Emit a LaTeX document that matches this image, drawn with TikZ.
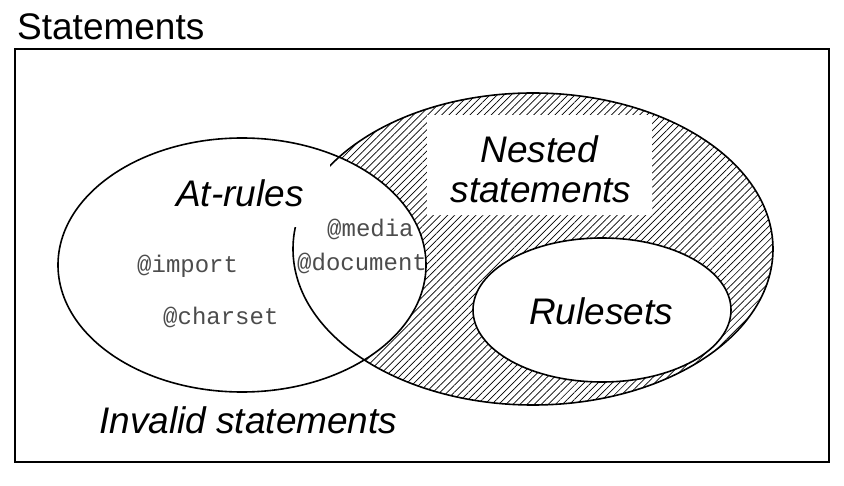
\documentclass[tikz,border=0pt]{standalone}
\usepackage{fontspec}
\setmainfont{Liberation Sans}
\setmonofont{Liberation Mono}
\usetikzlibrary{patterns.meta}
\tikzset{
  outline/.style={line width=1.6pt},
  bigtxt/.style={font=\fontsize{37}{41}\selectfont\itshape, inner sep=0pt},
  codetxt/.style={font=\fontsize{24}{28}\ttfamily, text=black!70, inner sep=0pt, anchor=base west},
  hatch/.style={pattern={Lines[angle=45,distance=5pt,line width=0.7pt]}}
}
\begin{document}
\begin{tikzpicture}[x=1pt,y=-1pt]
\useasboundingbox (0,0) rectangle (844,486);
% frame
\draw[line width=1.8pt] (15,49) rectangle (829,462);
\node[font=\fontsize{37}{41}\selectfont, inner sep=0pt, anchor=base west] (title) at (17,40) {Statements};
% hatched nested region
\fill[hatch] (533,249) ellipse [x radius=240, y radius=156];
\fill[white] (242,265) ellipse [x radius=184, y radius=127];
\fill[white] (602,310) ellipse [x radius=129, y radius=72];
\fill[white] (427,115) rectangle (652,215);
\draw[outline] (533,249) ellipse [x radius=240, y radius=156];
% mask for the gap under At-rules
\fill[white] (150,163) rectangle (330,227);
\draw[outline] (242,265) ellipse [x radius=184, y radius=127];
\draw[outline] (602,310) ellipse [x radius=129, y radius=72];
% labels
\node[bigtxt, anchor=base] (atrules) at (240,207) {At-rules};
\node[bigtxt, anchor=base] (nested1) at (539,163) {Nested};
\node[bigtxt, anchor=base] (nested2) at (541,203) {statements};
\node[bigtxt, anchor=base] (rulesets) at (601,325) {Rulesets};
\node[bigtxt, anchor=base west] (invalid) at (99,433) {Invalid statements};
\node[codetxt] (media) at (327,237) {@media};
\node[codetxt] (document) at (297,271) {@document};
\node[codetxt] (import) at (137,273) {@import};
\node[codetxt] (charset) at (163,325) {@charset};
\end{tikzpicture}
\end{document}
